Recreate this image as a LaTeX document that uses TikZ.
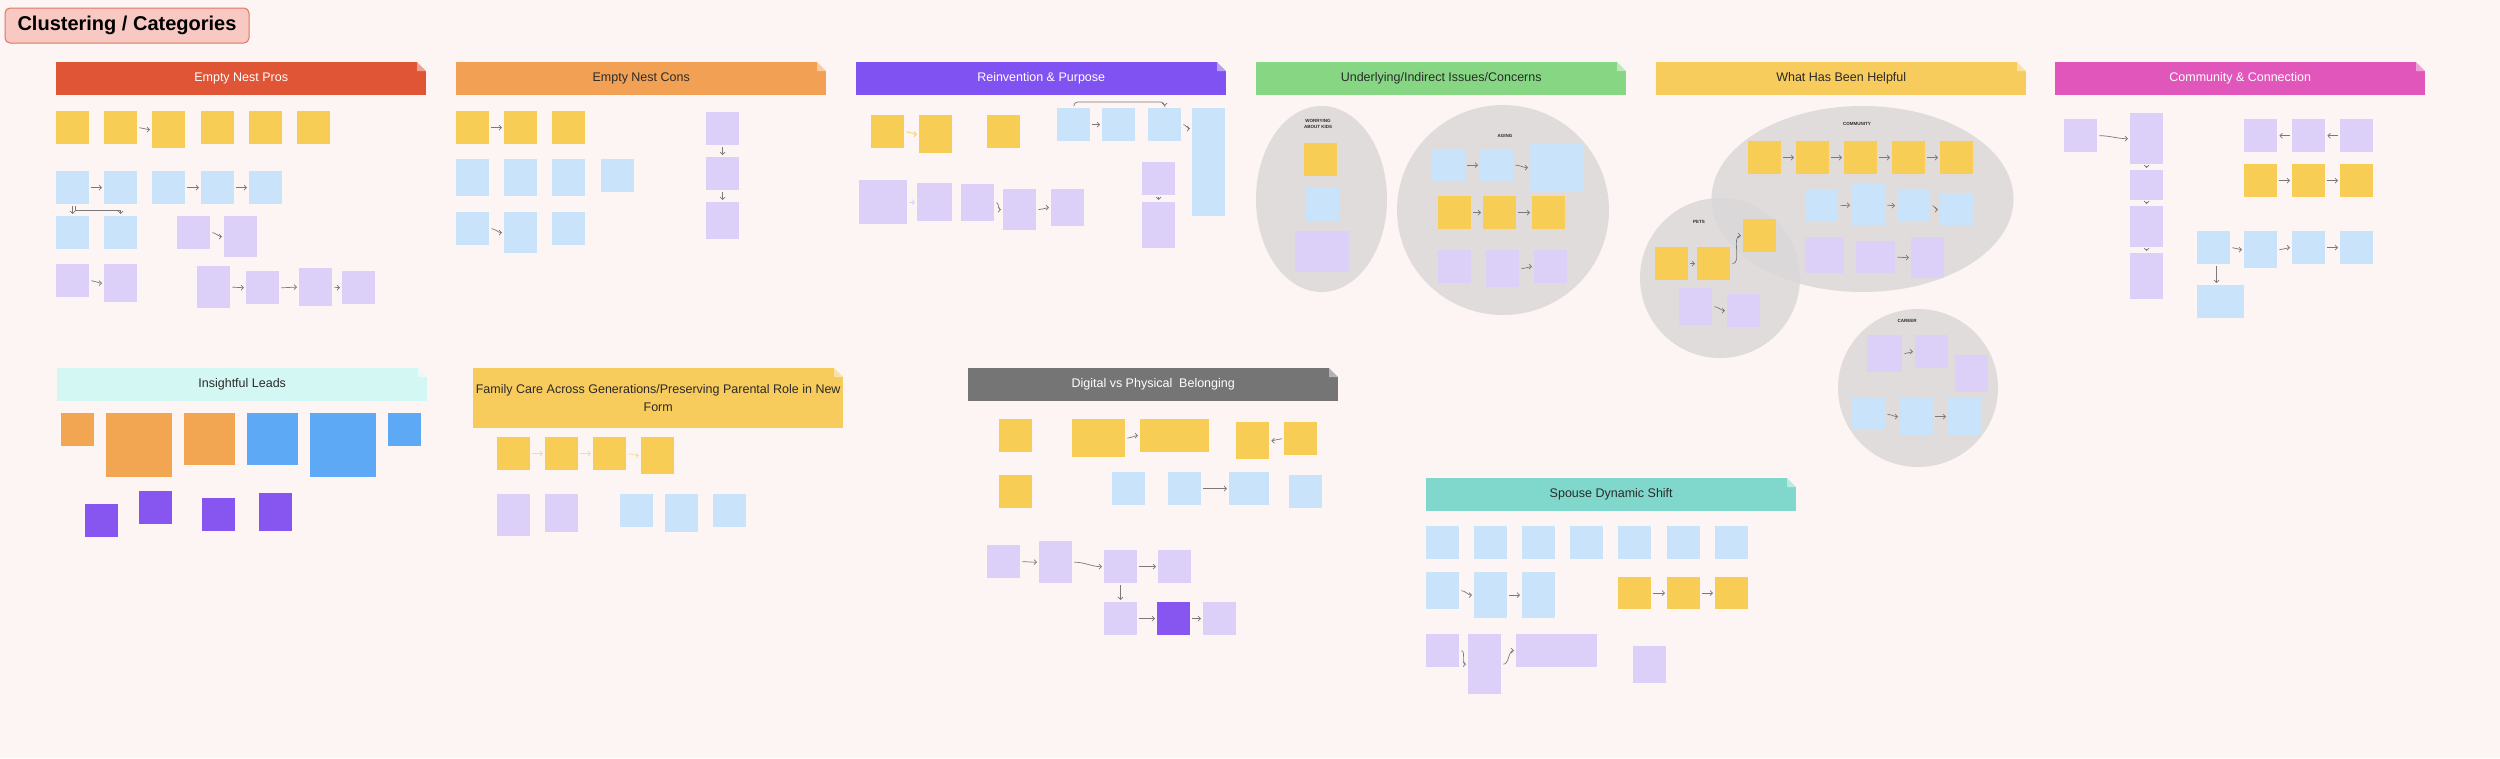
\documentclass[tikz,border=0pt]{standalone}
\usepackage{fontspec}
\setmainfont{Liberation Sans}
\usetikzlibrary{arrows.meta,positioning,shapes.geometric}

\definecolor{bgpink}{HTML}{FDF4F4}
\definecolor{titlefill}{HTML}{F8C9C3}
\definecolor{titleline}{HTML}{E3745F}
\definecolor{darktext}{HTML}{2B2B2B}
\definecolor{noteyel}{HTML}{F7CD55}
\definecolor{noteblu}{HTML}{C9E3FA}
\definecolor{notepur}{HTML}{DDD0F8}
\definecolor{noteorg}{HTML}{F2A652}
\definecolor{notesky}{HTML}{5DA9F5}
\definecolor{notevio}{HTML}{8756F0}
\definecolor{fadeyel}{HTML}{F9DC8C}
\definecolor{blobgray}{HTML}{D9D7D7}
\definecolor{linkgray}{HTML}{7A7A7A}
\definecolor{hdpros}{HTML}{E05535}
\definecolor{hdcons}{HTML}{F2A054}
\definecolor{hdreinv}{HTML}{8152F2}
\definecolor{hdunder}{HTML}{86D684}
\definecolor{hdhelp}{HTML}{F7CB5C}
\definecolor{hdcomm}{HTML}{E156BA}
\definecolor{hdinsight}{HTML}{D3F8F3}
\definecolor{hddigital}{HTML}{757575}
\definecolor{hdspouse}{HTML}{80D8CC}

\begin{document}
\begin{tikzpicture}[x=1pt, y=-1pt,
    note/.style={anchor=north west, minimum width=33pt, minimum height=33pt, inner sep=0pt},
    yel/.style={note, fill=noteyel},
    blu/.style={note, fill=noteblu},
    pur/.style={note, fill=notepur},
    org/.style={note, fill=noteorg},
    sky/.style={note, fill=notesky},
    vio/.style={note, fill=notevio},
    banner/.style={anchor=north west, minimum width=370pt, minimum height=33pt, inner sep=0pt,
                   font=\fontsize{12.5}{18}\selectfont, align=center,
                   path picture={
                     \fill[bgpink] ([xshift=-9pt]path picture bounding box.north east) -- (path picture bounding box.north east)
                        -- ([yshift=-9pt]path picture bounding box.north east) -- cycle;
                     \fill[white, opacity=.45] ([xshift=-9pt]path picture bounding box.north east)
                        -- ([xshift=-9pt,yshift=-9pt]path picture bounding box.north east)
                        -- ([yshift=-9pt]path picture bounding box.north east) -- cycle;}},
    blob/.style={ellipse, fill=blobgray, fill opacity=.8, inner sep=0pt},
    grp/.style={font=\fontsize{4.5}{6.5}\selectfont\bfseries, align=center, text=darktext},
    link/.style={draw=linkgray, line width=.7pt, -{Straight Barb[length=2.5pt,width=5pt]},
                 shorten >=2pt, shorten <=2pt},
    curvy/.style={out=0, in=180}
  ]
  \fill[bgpink] (0,0) rectangle (2500,758);
  \useasboundingbox (0,0) rectangle (2500,758);

  \node[fill=titlefill, draw=titleline, line width=1pt, rounded corners=5pt,
        minimum width=244pt, minimum height=35pt, font=\fontsize{20}{24}\selectfont\bfseries]
        (title) at (127,25.5) {Clustering / Categories};

  % headers
  \node[banner, fill=hdpros, text=white] (bpros) at (56,62) {Empty Nest Pros};
  \node[banner, fill=hdcons, text=darktext] (bcons) at (456,62) {Empty Nest Cons};
  \node[banner, fill=hdreinv, text=white] (breinv) at (856,62) {Reinvention \& Purpose};
  \node[banner, fill=hdunder, text=darktext] (bunder) at (1256,62) {Underlying/Indirect Issues/Concerns};
  \node[banner, fill=hdhelp, text=darktext] (bhelp) at (1656,62) {What Has Been Helpful};
  \node[banner, fill=hdcomm, text=white] (bcomm) at (2055,62) {Community \& Connection};
  \node[banner, fill=hdinsight, text=darktext] (binsight) at (57,368) {Insightful Leads};
  \node[banner, fill=hdhelp, text=darktext, minimum height=60pt] (bfamily) at (473,368)
        {Family Care Across Generations/Preserving Parental Role in New\\Form};
  \node[banner, fill=hddigital, text=white] (bdigital) at (968,368) {Digital vs Physical~ Belonging};
  \node[banner, fill=hdspouse, text=darktext] (bspouse) at (1426,478) {Spouse Dynamic Shift};

  % grey clusters
  \node[blob, minimum width=131pt, minimum height=186pt] (worry) at (1321.5,199) {};
  \node[blob, minimum width=212pt, minimum height=210pt] (aging) at (1503,210) {};
  \node[blob, minimum width=302pt, minimum height=186pt] (commty) at (1862.5,199) {};
  \node[blob, minimum width=160pt, minimum height=160pt] (pets) at (1720,278) {};
  \node[blob, minimum width=160pt, minimum height=158pt] (career) at (1918,388) {};
  \node[grp] (wlab) at (1318,124) {WORRYING\\ABOUT KIDS};
  \node[grp] (alab) at (1505,136) {AGING};
  \node[grp] (clab) at (1857,124) {COMMUNITY};
  \node[grp] (plab) at (1699,222) {PETS};
  \node[grp] (klab) at (1907,321) {CAREER};

  % Empty Nest Pros
  \node[yel] (pa1) at (56,111) {};
  \node[yel] (pa2) at (104,111) {};
  \node[yel, minimum height=37pt] (pa3) at (152,111) {};
  \node[yel] (pa4) at (201,111) {};
  \node[yel] (pa5) at (249,111) {};
  \node[yel] (pa6) at (297,111) {};
  \node[blu] (pb1) at (56,171) {};
  \node[blu] (pb2) at (104,171) {};
  \node[blu] (pb3) at (152,171) {};
  \node[blu] (pb4) at (201,171) {};
  \node[blu] (pb5) at (249,171) {};
  \node[blu] (pc1) at (56,216) {};
  \node[blu] (pc2) at (104,216) {};
  \node[pur] (pr1) at (177,216) {};
  \node[pur, minimum height=41pt] (pr2) at (224,216) {};
  \node[pur] (pd1) at (56,264) {};
  \node[pur, minimum height=38pt] (pd2) at (104,264) {};
  \node[pur, minimum height=42pt] (pe1) at (197,266) {};
  \node[pur] (pe2) at (246,271) {};
  \node[pur, minimum height=38pt] (pe3) at (299,268) {};
  \node[pur] (pe4) at (342,271) {};

  % Empty Nest Cons
  \node[yel] (ca1) at (456,111) {};
  \node[yel] (ca2) at (504,111) {};
  \node[yel] (ca3) at (552,111) {};
  \node[pur] (cv1) at (706,112) {};
  \node[pur] (cv2) at (706,157) {};
  \node[pur, minimum height=37pt] (cv3) at (706,202) {};
  \node[blu, minimum height=37pt] (cb1) at (456,159) {};
  \node[blu, minimum height=37pt] (cb2) at (504,159) {};
  \node[blu, minimum height=37pt] (cb3) at (552,159) {};
  \node[blu] (cb4) at (601,159) {};
  \node[blu] (cc1) at (456,212) {};
  \node[blu, minimum height=41pt] (cc2) at (504,212) {};
  \node[blu] (cc3) at (552,212) {};

  % Reinvention & Purpose
  \node[yel] (ra1) at (871,115) {};
  \node[yel, minimum height=38pt] (ra2) at (919,115) {};
  \node[yel] (ra3) at (987,115) {};
  \node[blu] (rb1) at (1057,108) {};
  \node[blu] (rb2) at (1102,108) {};
  \node[blu] (rb3) at (1148,108) {};
  \node[blu, minimum height=41pt] (rb4) at (1192,108) {};
  \node[blu] (rb5) at (1192,149) {};
  \node[blu, minimum height=34pt] (rb6) at (1192,182) {};
  \node[pur] (rv1) at (1142,162) {};
  \node[pur, minimum height=46pt] (rv2) at (1142,202) {};
  \node[pur, minimum width=48pt, minimum height=44pt] (rp1) at (859,180) {};
  \node[pur, minimum width=35pt, minimum height=38pt] (rp2) at (917,183) {};
  \node[pur, minimum height=37pt] (rp3) at (961,184) {};
  \node[pur, minimum height=41pt] (rp4) at (1003,189) {};
  \node[pur, minimum height=37pt] (rp5) at (1051,189) {};

  % Underlying/Indirect Issues/Concerns
  \node[yel] (wa) at (1304,143) {};
  \node[blu] (wb) at (1306,188) {};
  \node[pur, minimum width=54pt, minimum height=41pt] (wc) at (1295,231) {};
  \node[blu, minimum height=32pt] (ab1) at (1432,149) {};
  \node[blu, minimum height=32pt] (ab2) at (1480,149) {};
  \node[blu, minimum width=54pt, minimum height=47pt] (ab3) at (1530,144) {};
  \node[yel] (ay1) at (1438,196) {};
  \node[yel] (ay2) at (1483,196) {};
  \node[yel] (ay3) at (1532,196) {};
  \node[pur] (ap1) at (1438,250) {};
  \node[pur, minimum height=37pt] (ap2) at (1486,250) {};
  \node[pur] (ap3) at (1534,250) {};

  % What Has Been Helpful
  \node[yel] (hy1) at (1748,141) {};
  \node[yel] (hy2) at (1796,141) {};
  \node[yel] (hy3) at (1844,141) {};
  \node[yel] (hy4) at (1892,141) {};
  \node[yel] (hy5) at (1940,141) {};
  \node[blu] (hb1) at (1805,189) {};
  \node[blu, minimum height=42pt] (hb2) at (1852,184) {};
  \node[blu] (hb3) at (1897,189) {};
  \node[blu] (hb4) at (1940,193) {};
  \node[pur, minimum width=39pt, minimum height=36pt] (hp1) at (1805,237) {};
  \node[pur, minimum width=39pt, minimum height=32pt] (hp2) at (1856,241) {};
  \node[pur, minimum height=41pt] (hp3) at (1911,237) {};
  \node[yel] (ty1) at (1655,247) {};
  \node[yel] (ty2) at (1697,247) {};
  \node[yel] (ty3) at (1743,219) {};
  \node[pur, minimum height=37pt] (tp1) at (1679,288) {};
  \node[pur] (tp2) at (1727,294) {};
  \node[pur, minimum width=35pt, minimum height=37pt] (kp1) at (1867,335) {};
  \node[pur] (kp2) at (1915,335) {};
  \node[pur, minimum height=37pt] (kp3) at (1955,355) {};
  \node[blu, minimum height=32pt] (kb1) at (1852,398) {};
  \node[blu, minimum height=37pt] (kb2) at (1900,398) {};
  \node[blu, minimum width=34pt, minimum height=37pt] (kb3) at (1948,398) {};

  % Community & Connection
  \node[pur] (m1) at (2064,119) {};
  \node[pur, minimum height=51pt] (m2) at (2130,113) {};
  \node[pur, minimum height=30pt] (m3) at (2130,170) {};
  \node[pur, minimum height=41pt] (m4) at (2130,206) {};
  \node[pur, minimum height=46pt] (m5) at (2130,253) {};
  \node[pur] (mt1) at (2244,119) {};
  \node[pur] (mt2) at (2292,119) {};
  \node[pur] (mt3) at (2340,119) {};
  \node[yel] (my1) at (2244,164) {};
  \node[yel] (my2) at (2292,164) {};
  \node[yel] (my3) at (2340,164) {};
  \node[blu] (mb1) at (2197,231) {};
  \node[blu, minimum height=37pt] (mb2) at (2244,231) {};
  \node[blu] (mb3) at (2292,231) {};
  \node[blu] (mb4) at (2340,231) {};
  \node[blu, minimum width=47pt] (mb5) at (2197,285) {};

  % Insightful Leads
  \node[org] (ia1) at (61,413) {};
  \node[org, minimum width=66pt, minimum height=64pt] (ia2) at (106,413) {};
  \node[org, minimum width=51pt, minimum height=52pt] (ia3) at (184,413) {};
  \node[sky, minimum width=51pt, minimum height=52pt] (ia4) at (247,413) {};
  \node[sky, minimum width=66pt, minimum height=64pt] (ia5) at (310,413) {};
  \node[sky] (ia6) at (388,413) {};
  \node[vio] (iv1) at (85,504) {};
  \node[vio] (iv2) at (139,491) {};
  \node[vio] (iv3) at (202,498) {};
  \node[vio, minimum height=38pt] (iv4) at (259,493) {};

  % Family Care
  \node[yel] (fa1) at (497,437) {};
  \node[yel] (fa2) at (545,437) {};
  \node[yel] (fa3) at (593,437) {};
  \node[yel, minimum height=37pt] (fa4) at (641,437) {};
  \node[pur, minimum height=42pt] (fp1) at (497,494) {};
  \node[pur, minimum height=38pt] (fp2) at (545,494) {};
  \node[blu] (fb1) at (620,494) {};
  \node[blu, minimum height=38pt] (fb2) at (665,494) {};
  \node[blu] (fb3) at (713,494) {};

  % Digital vs Physical Belonging
  \node[yel] (da1) at (999,419) {};
  \node[yel, minimum width=53pt, minimum height=38pt] (da2) at (1072,419) {};
  \node[yel, minimum width=69pt] (da3) at (1140,419) {};
  \node[yel, minimum height=37pt] (da4) at (1236,422) {};
  \node[yel] (da5) at (1284,422) {};
  \node[yel] (da6) at (999,475) {};
  \node[blu] (db1) at (1112,472) {};
  \node[blu] (db2) at (1168,472) {};
  \node[blu, minimum width=40pt] (db3) at (1229,472) {};
  \node[blu] (db4) at (1289,475) {};
  \node[pur] (dp1) at (987,545) {};
  \node[pur, minimum height=42pt] (dp2) at (1039,541) {};
  \node[pur] (dp3) at (1104,550) {};
  \node[pur] (dp4) at (1158,550) {};
  \node[pur] (dq1) at (1104,602) {};
  \node[vio] (dq2) at (1157,602) {};
  \node[pur] (dq3) at (1203,602) {};

  % Spouse Dynamic Shift
  \node[blu] (sa1) at (1426,526) {};
  \node[blu] (sa2) at (1474,526) {};
  \node[blu] (sa3) at (1522,526) {};
  \node[blu] (sa4) at (1570,526) {};
  \node[blu] (sa5) at (1618,526) {};
  \node[blu] (sa6) at (1667,526) {};
  \node[blu] (sa7) at (1715,526) {};
  \node[blu, minimum height=37pt] (sb1) at (1426,572) {};
  \node[blu, minimum height=46pt] (sb2) at (1474,572) {};
  \node[blu, minimum height=46pt] (sb3) at (1522,572) {};
  \node[yel, minimum height=32pt] (sy1) at (1618,577) {};
  \node[yel, minimum height=32pt] (sy2) at (1667,577) {};
  \node[yel, minimum height=32pt] (sy3) at (1715,577) {};
  \node[pur] (sp1) at (1426,634) {};
  \node[pur, minimum height=60pt] (sp2) at (1468,634) {};
  \node[pur, minimum width=81pt] (sp3) at (1516,634) {};
  \node[pur, minimum height=37pt] (sp4) at (1633,646) {};

  % connectors
  \draw[link] (pa2) to[curvy] (pa3);
  \draw[link] (pb1) -- (pb2);
  \draw[link] (pb3) -- (pb4);
  \draw[link] (pb4) -- (pb5);
  \draw[link] (pb1) -- (pc1);
  \draw[link] ([xshift=3pt]pb1.south) -- ++(0,6) -| (pc2.north);
  \draw[link] (pr1) to[curvy] (pr2);
  \draw[link] (pd1) to[curvy] (pd2);
  \draw[link] (pe1) to[curvy] (pe2);
  \draw[link] (pe2) to[curvy] (pe3);
  \draw[link] (pe3) to[curvy] (pe4);

  \draw[link] (ca1) -- (ca2);
  \draw[link] (cv1) -- (cv2);
  \draw[link] (cv2) -- (cv3);
  \draw[link] (cc1) to[curvy] (cc2);

  \draw[link, draw=noteyel] (ra1) to[curvy] (ra2);
  \draw[link] (rb1) -- (rb2);
  \draw[link, rounded corners=4pt] (rb1.north) -- ++(0,-6) -| (rb3.north);
  \draw[link] (rb3) to[curvy] (rb4);
  \draw[link] (rv1) -- (rv2);
  \draw[link, draw=notepur] (rp1) to[curvy] (rp2);
  \draw[link] (rp3) to[curvy] (rp4);
  \draw[link] (rp4) to[curvy] (rp5);

  \draw[link] (ab1) -- (ab2);
  \draw[link] (ab2) to[curvy] (ab3);
  \draw[link] (ay1) -- (ay2);
  \draw[link] (ay2) -- (ay3);
  \draw[link] (ap2) to[curvy] (ap3);

  \draw[link] (hy1) -- (hy2);
  \draw[link] (hy2) -- (hy3);
  \draw[link] (hy3) -- (hy4);
  \draw[link] (hy4) -- (hy5);
  \draw[link] (hb1) to[curvy] (hb2);
  \draw[link] (hb2) to[curvy] (hb3);
  \draw[link] (hb3) to[curvy] (hb4);
  \draw[link] (hp2) to[curvy] (hp3);
  \draw[link] (ty1) -- (ty2);
  \draw[link] (ty2) to[curvy] (ty3);
  \draw[link] (tp1) to[curvy] (tp2);
  \draw[link] (kp1) to[curvy] (kp2);
  \draw[link] (kb1) to[curvy] (kb2);
  \draw[link] (kb2) -- (kb3);

  \draw[link] (m1) to[curvy] (m2);
  \draw[link] (m2) -- (m3);
  \draw[link] (m3) -- (m4);
  \draw[link] (m4) -- (m5);
  \draw[link] (mt3) -- (mt2);
  \draw[link] (mt2) -- (mt1);
  \draw[link] (my1) -- (my2);
  \draw[link] (my2) -- (my3);
  \draw[link] (mb1) to[curvy] (mb2);
  \draw[link] (mb2) to[curvy] (mb3);
  \draw[link] (mb3) -- (mb4);
  \draw[link] ([xshift=3pt]mb1.south) -- ([xshift=-4pt]mb5.north);

  \draw[link, draw=fadeyel] (fa1) -- (fa2);
  \draw[link, draw=fadeyel] (fa2) -- (fa3);
  \draw[link, draw=fadeyel] (fa3) to[curvy] (fa4);

  \draw[link] (da2) to[curvy] (da3);
  \draw[link] (da5) to[out=180, in=0] (da4);
  \draw[link] (db2) -- (db3);
  \draw[link] (dp1) to[curvy] (dp2);
  \draw[link] (dp2) to[curvy] (dp3);
  \draw[link] (dp3) -- (dp4);
  \draw[link] (dp3) -- (dq1);
  \draw[link] (dq1) -- (dq2);
  \draw[link] (dq2) -- (dq3);

  \draw[link] (sb1) to[curvy] (sb2);
  \draw[link] (sb2) -- (sb3);
  \draw[link] (sy1) -- (sy2);
  \draw[link] (sy2) -- (sy3);
  \draw[link] (sp1) to[curvy] (sp2);
  \draw[link] (sp2) to[curvy] (sp3);
\end{tikzpicture}
\end{document}
